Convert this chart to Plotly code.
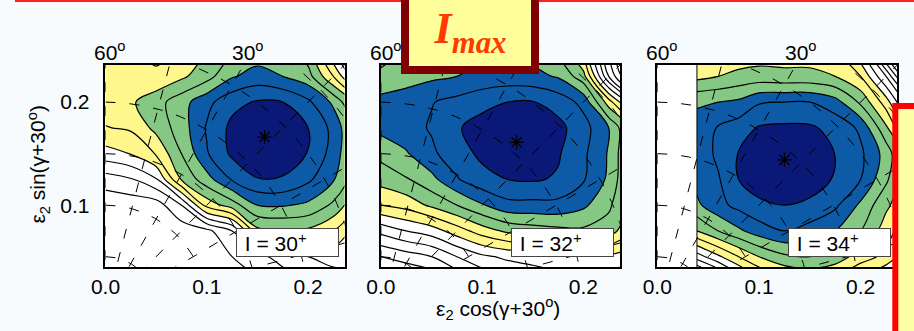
import numpy as np
import plotly.graph_objects as go

# ---------------- data ----------------
x_grid = [0.0, 0.025, 0.05, 0.075, 0.1, 0.125, 0.15, 0.175, 0.2, 0.225, 0.25]
x_grid_34 = [0.039, 0.06, 0.08, 0.1, 0.125, 0.15, 0.175, 0.2, 0.225, 0.25]
y_grid = [0.025, 0.05, 0.075, 0.1, 0.125, 0.15, 0.175, 0.2, 0.225, 0.25]

# energy surface (in units of contour spacing), rows = y_grid, cols = x grid
z_30 = [
    [10.9, 10.9, 10.9, 10.9, 10.8, 10.6, 10.2, 9.6, 9.0, 8.6, 8.5],
    [10.8, 10.8, 10.8, 10.7, 10.5, 10.0, 9.3, 8.6, 8.0, 7.6, 7.5],
    [10.9, 10.8, 10.7, 10.6, 10.3, 9.0, 5.3, 5.1, 5.2, 6.0, 7.5],
    [10.7, 10.6, 10.5, 9.0, 5.6, 4.5, 3.0, 2.9, 3.2, 4.2, 6.0],
    [9.5, 9.1, 8.1, 4.9, 3.4, 1.9, 1.05, 1.1, 1.8, 2.9, 4.8],
    [7.4, 6.95, 5.9, 4.0, 2.1, 0.8, 0.25, 0.35, 1.05, 2.4, 4.5],
    [6.05, 5.85, 4.7, 3.5, 1.9, 0.75, 0.1, 0.3, 1.0, 2.3, 4.5],
    [5.5, 5.15, 4.4, 3.4, 2.3, 1.3, 0.9, 1.0, 1.8, 3.2, 5.5],
    [5.6, 5.5, 5.8, 5.2, 4.4, 3.1, 2.6, 3.0, 3.6, 6.0, 9.0],
    [5.8, 5.8, 6.3, 5.8, 5.0, 4.0, 3.6, 3.8, 4.6, 8.0, 14.0],
]
z_32 = [
    [13.0, 12.5, 12.0, 11.0, 10.0, 9.2, 8.8, 8.6, 8.5, 8.5, 9.0],
    [11.0, 10.5, 10.0, 9.0, 8.2, 7.8, 7.6, 7.3, 7.2, 7.2, 7.5],
    [8.7, 8.0, 7.5, 6.5, 5.5, 4.8, 4.5, 4.3, 4.2, 4.5, 6.0],
    [6.0, 5.6, 4.8, 4.0, 3.1, 2.3, 2.3, 2.3, 2.8, 3.8, 5.5],
    [4.6, 4.1, 3.3, 2.1, 1.3, 1.0, 0.9, 1.1, 1.9, 3.2, 5.5],
    [3.7, 3.1, 2.2, 1.4, 0.8, 0.4, 0.5, 0.9, 1.8, 3.1, 5.5],
    [2.7, 2.4, 1.9, 1.1, 0.6, 0.2, 0.3, 0.7, 1.6, 3.0, 5.5],
    [2.6, 2.4, 2.05, 1.7, 1.3, 1.0, 0.95, 1.4, 2.3, 5.5, 9.0],
    [3.9, 3.5, 3.2, 3.0, 2.7, 2.6, 2.7, 3.1, 4.6, 10.0, 14.0],
    [4.2, 4.0, 3.8, 3.5, 3.3, 3.3, 3.5, 4.3, 6.5, 11.0, 16.0],
]
z_34 = [
    [13.0, 11.0, 9.0, 7.5, 6.5, 6.2, 6.5, 7.5, 8.5, 10.0],
    [8.5, 7.2, 6.0, 5.0, 4.2, 4.0, 4.4, 5.5, 6.3, 8.0],
    [5.0, 4.0, 3.2, 2.5, 2.0, 2.4, 3.0, 4.0, 5.5, 7.0],
    [3.2, 2.3, 1.7, 1.2, 1.0, 1.2, 1.8, 3.2, 4.8, 6.0],
    [2.7, 2.1, 1.0, 0.5, 0.4, 0.5, 1.1, 2.0, 3.8, 6.0],
    [2.6, 1.8, 0.95, 0.5, 0.2, 0.35, 1.02, 1.8, 3.4, 6.0],
    [2.7, 1.9, 1.5, 0.9, 0.8, 0.85, 1.3, 2.2, 4.8, 8.0],
    [3.1, 3.0, 2.8, 2.1, 2.0, 2.0, 2.6, 4.2, 6.5, 10.0],
    [5.3, 5.0, 4.7, 4.6, 4.7, 4.7, 5.0, 6.0, 9.0, 14.0],
    [6.5, 6.2, 5.8, 5.6, 5.6, 5.6, 6.0, 8.0, 13.0, 18.0],
]

spin_labels = ["I = 30<sup>+</sup>", "I = 32<sup>+</sup>", "I = 34<sup>+</sup>"]
minima_x = [0.157, 0.134, 0.125]
minima_y = [0.166, 0.161, 0.144]

gamma_rays = [60, 45, 30, 15, 0, -15]
eps_arcs = [0.05, 0.1, 0.15, 0.2, 0.25, 0.3, 0.35]
gamma_top_labels = [[60, 30], [60, 30], [60, 30, 15]]

x_range = [0.0, 0.236]
y_range = [0.04, 0.236]
x_ticks = [0.0, 0.1, 0.2]
x_ticktext = ["0.0", "0.1", "0.2"]
y_ticks = [0.1, 0.2]
y_ticktext = ["0.1", "0.2"]

band_levels = [7, 5, 3, 1]
band_colors = ["#fff68c", "#84c884", "#0d5aa7", "#0a1878"]

# ---------------- layout geometry ----------------
W, H = 914, 331
FONT = "Liberation Sans, Arial, sans-serif"
FS = 21
panel_px = [(92, 335), (372, 615), (653, 897)]
top_px, bot_px = 65, 267


def px_x(p):
    return p / W


def px_y(p):
    return 1 - p / H


panels = [
    (x_grid, z_30),
    (x_grid, z_32),
    (x_grid_34, z_34),
]

fig = go.Figure()
annotations = []

for i, (xg, z) in enumerate(panels):
    xa = "x" if i == 0 else f"x{i + 1}"
    ya = "y" if i == 0 else f"y{i + 1}"
    # filled bands (plotly shades the region violating the constraint)
    for lv, col in zip(band_levels, band_colors):
        fig.add_trace(go.Contour(
            x=xg, y=y_grid, z=z,
            contours=dict(type="constraint", operation=">", value=lv, showlines=False),
            fillcolor=col, line=dict(width=0, smoothing=1.0),
            showscale=False, hoverinfo="skip", xaxis=xa, yaxis=ya,
        ))
    # contour lines
    fig.add_trace(go.Contour(
        x=xg, y=y_grid, z=z,
        contours=dict(coloring="none", start=1, end=20, size=1, showlines=True),
        line=dict(color="black", width=1.2, smoothing=1.0),
        showscale=False, hoverinfo="skip", xaxis=xa, yaxis=ya,
    ))
    if i == 2:
        fig.add_trace(go.Scatter(
            x=[xg[0], xg[0]], y=y_range, mode="lines",
            line=dict(color="black", width=1), hoverinfo="skip",
            showlegend=False, xaxis=xa, yaxis=ya,
        ))
    # dashed polar grid (gamma rays, eps arcs)
    for g in gamma_rays:
        ang = np.radians(g + 30)
        r = np.array([0.0, 0.45])
        fig.add_trace(go.Scatter(
            x=r * np.cos(ang), y=r * np.sin(ang), mode="lines",
            line=dict(color="black", width=1, dash="10px,14px"),
            hoverinfo="skip", showlegend=False, xaxis=xa, yaxis=ya,
        ))
    for e in eps_arcs:
        th = np.radians(np.linspace(90, 0, 200))
        fig.add_trace(go.Scatter(
            x=e * np.cos(th), y=e * np.sin(th), mode="lines",
            line=dict(color="black", width=1, dash="10px,14px"),
            hoverinfo="skip", showlegend=False, xaxis=xa, yaxis=ya,
        ))
    # minimum marker
    fig.add_trace(go.Scatter(
        x=[minima_x[i]], y=[minima_y[i]], mode="markers",
        marker=dict(symbol="asterisk-open", size=12, color="black",
                    line=dict(color="black", width=1.3)),
        hoverinfo="skip", showlegend=False, xaxis=xa, yaxis=ya,
    ))

    x0, x1 = panel_px[i]
    xdom = [px_x(x0), px_x(x1)]
    ydom = [px_y(bot_px), px_y(top_px)]
    xkey = "xaxis" if i == 0 else f"xaxis{i + 1}"
    ykey = "yaxis" if i == 0 else f"yaxis{i + 1}"
    fig.update_layout(**{
        xkey: dict(domain=xdom, range=x_range, anchor=ya, showgrid=False,
                   zeroline=False, showline=True, mirror=True, linecolor="black",
                   linewidth=1.5, ticks="", tickvals=x_ticks, ticktext=x_ticktext,
                   tickfont=dict(family=FONT, size=FS, color="black"),
                   ticklabelstandoff=0),
        ykey: dict(domain=ydom, range=y_range, anchor=xa, showgrid=False,
                   zeroline=False, showline=True, mirror=True, linecolor="black",
                   linewidth=1.5, ticks="", tickvals=y_ticks, ticktext=y_ticktext,
                   showticklabels=(i == 0),
                   tickfont=dict(family=FONT, size=FS, color="black"),
                   ticklabelstandoff=10),
    })
    # top gamma labels
    for g in gamma_top_labels[i]:
        ang = np.radians(g + 30)
        xv = y_range[1] / np.tan(ang) if g != 60 else 0.0
        annotations.append(dict(
            xref=xa, yref="paper", x=float(xv), y=ydom[1], yanchor="bottom",
            xanchor="center", yshift=-1, xshift=5, showarrow=False,
            text=f"{g}<sup>o</sup>", font=dict(family=FONT, size=FS, color="black"),
        ))
    # spin label box
    annotations.append(dict(
        xref="paper", yref="paper", x=xdom[1] - 6 / W, y=ydom[0] + 10 / H,
        xanchor="right", yanchor="bottom", showarrow=False,
        text="\u00a0" + spin_labels[i], font=dict(family=FONT, size=FS, color="black"),
        bgcolor="white", bordercolor="#444444", borderwidth=1, borderpad=2,
        width=97, height=23, align="left", valign="middle",
    ))

# axis titles
annotations.append(dict(
    xref="paper", yref="paper", x=px_x(23), y=px_y(164), textangle=-90,
    xanchor="center", yanchor="middle",
    showarrow=False, text="ε<sub>2</sub> sin(γ+30<sup>o</sup>)",
    font=dict(family=FONT, size=FS, color="black"),
))
annotations.append(dict(
    xref="paper", yref="paper", x=px_x(491), y=px_y(308),
    xanchor="center", yanchor="middle",
    showarrow=False, text="ε<sub>2</sub> cos(γ+30<sup>o</sup>)",
    font=dict(family=FONT, size=FS, color="black"),
))
# I_max box (drawn last so it sits on top)
annotations.append(dict(
    xref="paper", yref="paper", x=px_x(392), y=px_y(74),
    xanchor="left", yanchor="bottom", showarrow=False,
    text="<b><i>I</i></b><sub><b><i>max</i></b></sub>",
    font=dict(family="Liberation Serif, DejaVu Serif, serif", size=44, color="#ff3a00"),
    bgcolor="#ffff9c", bordercolor="#7f0000", borderwidth=8, borderpad=0,
    width=122, height=68, align="center", valign="middle",
))

shapes = [
    dict(type="line", xref="paper", yref="paper", x0=0, x1=1,
         y0=px_y(1), y1=px_y(1), line=dict(color="#ff2020", width=2), layer="above"),
    dict(type="rect", xref="paper", yref="paper", x0=px_x(895), x1=1.05,
         y0=-0.1, y1=px_y(106), fillcolor="#ffffa6",
         line=dict(color="#ff0000", width=6), layer="above"),
]

fig.update_layout(
    width=W, height=H, autosize=False,
    margin=dict(l=0, r=0, t=0, b=0),
    paper_bgcolor="#f7fbfd", plot_bgcolor="white",
    showlegend=False, annotations=annotations, shapes=shapes,
)

fig.write_html(
    "out.html",
    config={"displayModeBar": False},
    post_script="document.body.style.margin='0px';document.body.style.padding='0px';"
                "document.body.style.overflow='hidden';",
)
